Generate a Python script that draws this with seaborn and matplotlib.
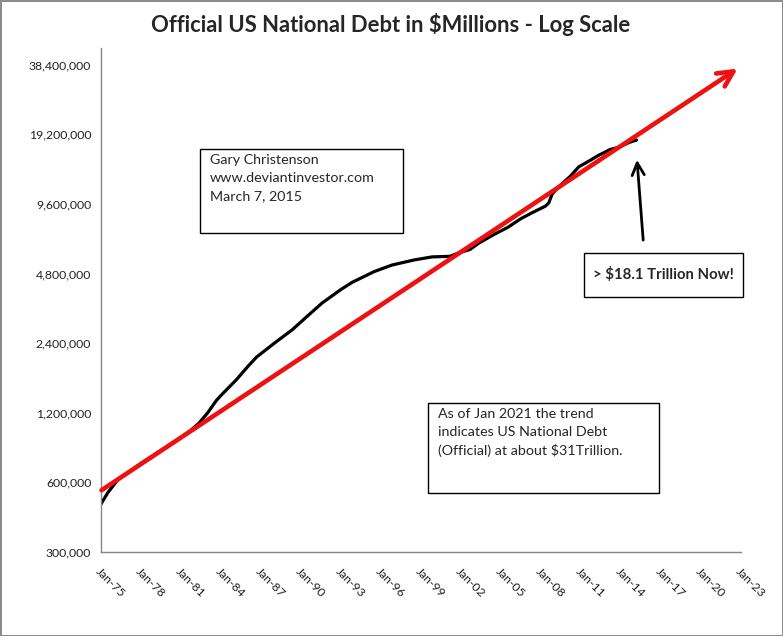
import matplotlib.pyplot as plt
import matplotlib.patches as mpatches
import matplotlib.dates as mdates
import matplotlib.ticker as mticker
import pandas as pd
import seaborn as sns

# Debt readings ($ millions)
debt_dates = ['1975-01', '1975-07', '1976-04', '1977-01', '1978-01', '1979-01', '1980-01',
              '1981-01', '1981-09', '1982-05', '1983-01', '1983-09', '1984-03', '1985-03',
              '1986-01', '1986-09', '1988-01', '1989-05', '1990-07', '1991-08', '1993-01',
              '1993-11', '1995-07', '1996-11', '1998-07', '1999-11', '2001-03', '2001-11',
              '2002-09', '2003-05', '2004-07', '2005-07', '2006-07', '2007-05', '2008-05',
              '2008-08', '2008-11', '2009-05', '2010-03', '2010-11', '2011-09', '2012-05',
              '2013-03', '2013-11', '2014-08', '2015-03']
debt_values = [484000, 540000, 615000, 660000, 725000, 790000, 860000,
               940000, 1000000, 1080000, 1200000, 1360000, 1460000, 1670000,
               1900000, 2090000, 2400000, 2740000, 3150000, 3580000, 4100000,
               4400000, 4900000, 5230000, 5500000, 5670000, 5700000, 5900000,
               6100000, 6500000, 7100000, 7600000, 8300000, 8800000, 9400000,
               9700000, 10600000, 11400000, 12600000, 13900000, 14800000, 15600000,
               16500000, 16900000, 17700000, 18150000]

# trend line end points
trend_dates = ['1975-01-15', '2022-10-01']
trend_values = [555000, 37000000]

# "now" arrow
now_dates = ['2015-09-01', '2015-03-15']
now_values = [6700000, 14900000]

y_ticks = [300000, 600000, 1200000, 2400000, 4800000, 9600000, 19200000, 38400000]
x_ticks = [str(y) + '-01-01' for y in range(1975, 2024, 3)]

df = pd.DataFrame({'date': pd.to_datetime(debt_dates), 'debt': debt_values})

sns.set_style('white')
plt.rcParams['font.family'] = ['Lato', 'DejaVu Sans']

fig = plt.figure(figsize=(7.83, 6.36), dpi=100)
fig.patch.set_edgecolor('#8c8c8c')
fig.patch.set_linewidth(2)
ax = fig.add_axes([101 / 783, 1 - 552 / 636, 640 / 783, 504 / 636])

sns.lineplot(data=df, x='date', y='debt', color='black', lw=2.3, ax=ax)

# red trend arrow
td = pd.to_datetime(trend_dates)
ax.annotate('', xy=(td[1], trend_values[1]), xytext=(td[0], trend_values[0]),
            arrowprops=dict(arrowstyle='->', color='#ee1111', lw=3.3, mutation_scale=28,
                            shrinkA=0, shrinkB=0), annotation_clip=False)

nd = pd.to_datetime(now_dates)
ax.annotate('', xy=(nd[1], now_values[1]), xytext=(nd[0], now_values[0]),
            arrowprops=dict(arrowstyle='->', color='black', lw=2, mutation_scale=22,
                            shrinkA=0, shrinkB=0))

ax.set_yscale('log', base=2)
ax.set_ylim(300000, 45400000)
ax.set_xlim(pd.Timestamp('1975-01-01'), pd.Timestamp('2023-01-01'))
ax.yaxis.set_major_locator(mticker.FixedLocator(y_ticks))
ax.yaxis.set_minor_locator(mticker.NullLocator())
ax.yaxis.set_major_formatter(mticker.FuncFormatter(lambda v, p: f'{v:,.0f}'))
ax.xaxis.set_major_locator(mticker.FixedLocator(mdates.date2num(pd.to_datetime(x_ticks))))
ax.xaxis.set_major_formatter(mdates.DateFormatter('%b-%y'))

for s in ['top', 'right']:
    ax.spines[s].set_visible(False)
for s in ['left', 'bottom']:
    ax.spines[s].set_color('#868686')
    ax.spines[s].set_linewidth(1)
ax.tick_params(axis='both', direction='out', length=4, width=1, color='#868686',
               labelsize=8.8, colors='#868686', labelcolor='#222222')
ax.tick_params(axis='y', pad=3)
for lab in ax.get_xticklabels():
    lab.set_rotation(-45)
    lab.set_ha('left')
    lab.set_va('top')
    lab.set_rotation_mode('anchor')
ax.tick_params(axis='x', pad=6)
ax.set_xlabel('')
ax.set_ylabel('')

fig.text(391 / 783, 1 - 25 / 636, 'Official US National Debt in $Millions - Log Scale',
         ha='center', va='center', fontsize=15.8, fontweight='bold')

# text boxes
boxes = [(0.1547, 0.633, 0.317, 0.1666), (0.7547, 0.506, 0.2483, 0.087), (0.511, 0.117, 0.361, 0.1786)]
for x0, y0, w, h in boxes:
    ax.add_patch(mpatches.Rectangle((x0, y0), w, h, transform=ax.transAxes, fill=False,
                                    edgecolor='black', lw=1, clip_on=False))

ax.text(0.170, 0.790, 'Gary Christenson\nwww.deviantinvestor.com\nMarch 7, 2015',
        transform=ax.transAxes, ha='left', va='top', fontsize=10.3, linespacing=1.6)
ax.text(0.769, 0.551, '> $18.1 Trillion Now!', transform=ax.transAxes, ha='left',
        va='center', fontsize=10.7, fontweight='bold')
ax.text(0.527, 0.286, 'As of Jan 2021 the trend\nindicates US National Debt\n(Official) at about $31Trillion.',
        transform=ax.transAxes, ha='left', va='top', fontsize=10.3, linespacing=1.6)

fig.savefig('out.png', dpi=100)
